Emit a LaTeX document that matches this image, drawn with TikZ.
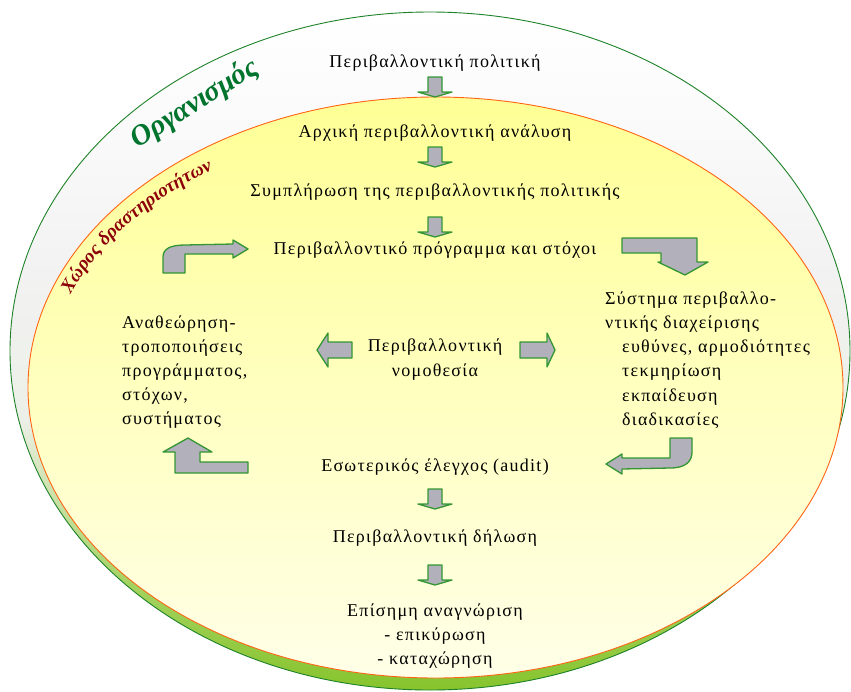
\documentclass[tikz,border=0pt]{standalone}
\usepackage{fontspec}
\setmainfont[LetterSpace=7]{Liberation Serif}
\newfontfamily\labelfont{Liberation Serif}
\usetikzlibrary{decorations.text}
\definecolor{agray}{RGB}{178,176,186}
\definecolor{agreen}{RGB}{51,150,51}
\definecolor{ringgreen}{RGB}{135,196,45}
\definecolor{ringline}{RGB}{30,130,40}
\definecolor{orgline}{RGB}{255,100,20}
\definecolor{yeltop}{RGB}{255,255,150}
\definecolor{yelbot}{RGB}{255,255,232}
\definecolor{orggreen}{RGB}{0,115,45}
\definecolor{darkred}{RGB}{140,0,10}
\pgfdeclareverticalshading{ringshade}{100bp}{color(0bp)=(ringgreen); color(25bp)=(ringgreen); color(33bp)=(ringgreen!75!white); color(45bp)=(ringgreen!35!gray!15); color(56bp)=(gray!10); color(66bp)=(gray!4); color(75bp)=(white); color(100bp)=(white)}
\begin{document}
\begin{tikzpicture}[x=1pt,y=-1pt,
  blockarrow/.style={fill=agray,draw=agreen,line width=1.3pt,line join=round},
  txt/.style={font=\fontsize{18}{20}\selectfont,inner sep=0pt,anchor=center},
  ltxt/.style={txt,anchor=west},
  downarr/.pic={\draw[blockarrow] (-7,-10) -- (7,-10) -- (7,5) -- (17,5) -- (0,10) -- (-17,5) -- (-7,5) -- cycle;}]
\useasboundingbox (0,0) rectangle (851,691);
% outer ring (organisation)
\shade[shading=ringshade] (430,351) ellipse [x radius=420pt, y radius=339pt];
\draw[ringline, line width=0.9pt] (430,351) ellipse [x radius=420pt, y radius=339pt];
% inner area (activities)
\shade[top color=yeltop, bottom color=yelbot] (435.5,387.5) ellipse [x radius=407.5pt, y radius=290.5pt];
\draw[orgline, line width=0.9pt] (435.5,387.5) ellipse [x radius=407.5pt, y radius=290.5pt];
% ring labels
\node[text=orggreen, font=\labelfont\fontsize{29}{32}\selectfont\bfseries\itshape, rotate=32] (org) at (195,104) {Οργανισμός};
\path[decorate, decoration={text along path, text align=center, text format delimiters={|}{|},
  text={|\labelfont\fontsize{19}{21}\selectfont\bfseries\itshape\color{darkred}|Χώρος δραστηριοτήτων}}]
  ([shift={(435.5,387.5)}]163:390pt and 265pt) arc[start angle=163, end angle=122, x radius=390pt, y radius=265pt];
% main column
\node[txt] (pol) at (435,63) {Περιβαλλοντική πολιτική};
\node[txt] (arx) at (435,133) {Αρχική περιβαλλοντική ανάλυση};
\node[txt] (sym) at (435,192) {Συμπλήρωση της περιβαλλοντικής πολιτικής};
\node[txt] (prog) at (435,250) {Περιβαλλοντικό πρόγραμμα και στόχοι};
\node[txt, align=center, font=\fontsize{18}{25}\selectfont] (nom) at (435,360) {Περιβαλλοντική\\νομοθεσία};
\node[txt] (eso) at (435,467) {Εσωτερικός έλεγχος (audit)};
\node[txt] (dil) at (435,538) {Περιβαλλοντική δήλωση};
\node[txt, align=center, font=\fontsize{18}{24}\selectfont] (ana) at (435,636) {Επίσημη αναγνώριση\\- επικύρωση\\- καταχώρηση};
% side blocks
\node[ltxt, align=left, font=\fontsize{18}{24.3}\selectfont] (sys) at (605,360) {Σύστημα περιβαλλο-\\ντικής διαχείρισης\\\hspace*{17pt}ευθύνες, αρμοδιότητες\\\hspace*{17pt}τεκμηρίωση\\\hspace*{17pt}εκπαίδευση\\\hspace*{17pt}διαδικασίες};
\node[ltxt, align=left, font=\fontsize{18}{24}\selectfont] (rev) at (122,372) {Αναθεώρηση-\\τροποποιήσεις\\προγράμματος,\\στόχων,\\συστήματος};
% small down arrows
\pic at (435,87) {downarr};
\pic at (435,157) {downarr};
\pic at (435,227) {downarr};
\pic at (435,499) {downarr};
\pic at (435,575) {downarr};
% horizontal arrows from legislation
\draw[blockarrow] (317,350) -- (328,333) -- (328,342) -- (352,342) -- (352,358) -- (328,358) -- (328,367) -- cycle;
\draw[blockarrow] (555,350) -- (547,333) -- (547,342) -- (520,342) -- (520,358) -- (547,358) -- (547,367) -- cycle;
% bent arrows of the cycle
\draw[blockarrow] (163,273) -- (163,257) .. controls (163,249) and (170,245) .. (185,245) -- (233,244) -- (233,240) -- (248,249) -- (233,258) -- (233,254) -- (185,254) -- (185,273) -- cycle;
\draw[blockarrow] (622,238) -- (697,238) -- (697,262) -- (708,262) -- (685,275) -- (658,262) -- (661,262) -- (661,253) -- (622,253) -- cycle;
\draw[blockarrow] (670,438) -- (692,438) -- (692,452) .. controls (692,462) and (685,468) .. (670,468) -- (622,469) -- (622,474) -- (606,464) -- (622,454) -- (622,458) -- (670,458) -- cycle;
\draw[blockarrow] (188,438) -- (212,452) -- (200,452) -- (200,462) -- (248,462) -- (248,473) -- (175,473) -- (175,452) -- (163,452) -- cycle;
\end{tikzpicture}
\end{document}
